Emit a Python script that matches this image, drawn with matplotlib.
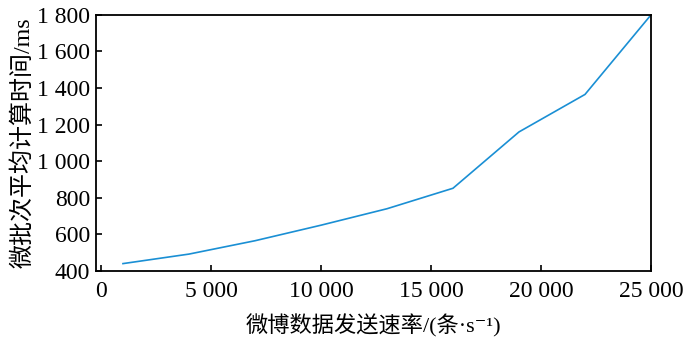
import matplotlib
matplotlib.use('Agg')
import matplotlib.pyplot as plt
from matplotlib.ticker import FuncFormatter

plt.rcParams['font.family'] = ['Liberation Serif', 'Noto Sans CJK SC', 'DejaVu Serif']

# data
rate = [1000, 4000, 7000, 10000, 13000, 16000, 19000, 22000, 25000]
calc_time = [440, 492, 565, 650, 740, 852, 1160, 1365, 1800]
x_ticks = [0, 5000, 10000, 15000, 20000, 25000]
y_ticks = [400, 600, 800, 1000, 1200, 1400, 1600, 1800]

fig = plt.figure(figsize=(7, 3.46), dpi=100)
ax = fig.add_axes([0.137, 0.217, 0.793, 0.740])

ax.plot(rate, calc_time, color='#1a8fd4', lw=1.2)

ax.set_xlim(-230, 25000)
ax.set_ylim(400, 1800)
ax.set_xticks(x_ticks)
ax.set_yticks(y_ticks)

fmt = FuncFormatter(lambda v, p: f'{v:,.0f}'.replace(',', ' '))
ax.xaxis.set_major_formatter(fmt)
ax.yaxis.set_major_formatter(fmt)

ax.tick_params(direction='in', length=4, width=1.2, labelsize=17)
ax.tick_params(axis='x', pad=7)
ax.tick_params(axis='y', pad=4)
for s in ax.spines.values():
    s.set_linewidth(1.3)

ax.set_xlabel('微博数据发送速率/(条·s⁻¹)', fontsize=16, labelpad=9)
ax.set_ylabel('微批次平均计算时间/ms', fontsize=17.3, labelpad=2)

fig.savefig('out.png', dpi=100)
